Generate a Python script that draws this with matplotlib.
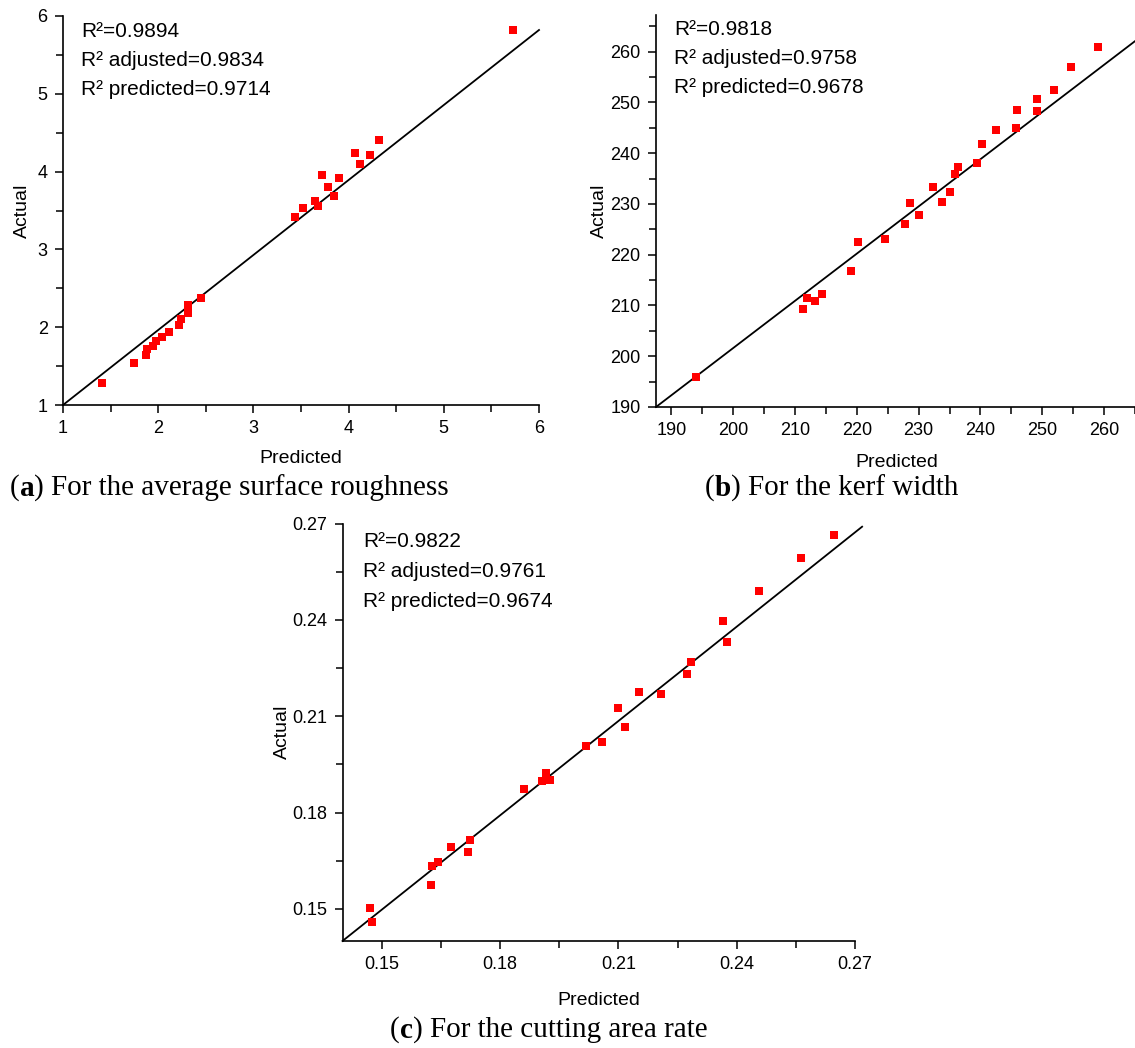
import matplotlib
matplotlib.use('Agg')
import matplotlib.pyplot as plt
from matplotlib.ticker import MultipleLocator, FormatStrFormatter

# (a) average surface roughness
a_pred = [5.73, 4.32, 4.07, 4.22, 4.12, 3.72, 3.90, 3.78, 3.85, 3.65, 3.68, 3.52, 3.44,
          2.45, 2.31, 2.31, 2.24, 2.22, 2.11, 2.04, 1.98, 1.95, 1.88, 1.87, 1.75, 1.41]
a_act = [5.82, 4.40, 4.24, 4.21, 4.10, 3.95, 3.92, 3.80, 3.68, 3.62, 3.56, 3.53, 3.42,
         2.37, 2.28, 2.18, 2.10, 2.03, 1.94, 1.88, 1.82, 1.76, 1.72, 1.64, 1.54, 1.28]
a_fit = ([1, 6], [1, 5.82])
a_stats = ['0.9894', '0.9834', '0.9714']

# (b) kerf width
b_pred = [259.0, 254.7, 251.9, 249.1, 246.0, 249.1, 245.7, 242.5, 240.2, 239.5, 236.3, 235.9,
          232.4, 235.0, 233.8, 228.6, 230.1, 227.8, 224.5, 220.2, 219.1, 214.4, 211.9, 213.2,
          211.3, 194.0]
b_act = [260.8, 256.9, 252.5, 250.7, 248.5, 248.3, 244.9, 244.5, 241.8, 238.0, 237.2, 235.9,
         233.4, 232.4, 230.4, 230.2, 227.9, 226.0, 223.1, 222.4, 216.8, 212.2, 211.5, 210.9,
         209.3, 195.9]
b_fit = ([187.5, 265.5], [190, 262.5])
b_stats = ['0.9818', '0.9758', '0.9678']

# (c) cutting area rate
c_pred = [0.2647, 0.2563, 0.2457, 0.2366, 0.2375, 0.2285, 0.2273, 0.2152, 0.2207, 0.2100,
          0.2117, 0.2058, 0.2018, 0.1916, 0.1906, 0.1927, 0.1861, 0.1724, 0.1719, 0.1675,
          0.1642, 0.1626, 0.1624, 0.1470, 0.1476]
c_act = [0.2664, 0.2594, 0.2489, 0.2396, 0.2331, 0.2268, 0.2231, 0.2175, 0.2170, 0.2127,
         0.2067, 0.2020, 0.2006, 0.1924, 0.1897, 0.1902, 0.1873, 0.1716, 0.1677, 0.1693,
         0.1645, 0.1633, 0.1575, 0.1503, 0.1460]
c_fit = ([0.14, 0.2718], [0.14, 0.269])
c_stats = ['0.9822', '0.9761', '0.9674']

W, H = 1135, 1048
fig = plt.figure(figsize=(W / 100, H / 100), dpi=100)

tick_font = ['Liberation Sans Narrow', 'Liberation Sans', 'DejaVu Sans']
text_font = ['Liberation Sans', 'DejaVu Sans']
cap_font = ['Liberation Serif', 'DejaVu Serif']


def px_axes(x0, x1, ytop, ybot):
    # pixel box -> figure fraction
    return fig.add_axes([x0 / W, 1 - ybot / H, (x1 - x0) / W, (ybot - ytop) / H])


def setup(ax, xlim, ylim, major, minor, fmt=None):
    ax.set_xlim(*xlim)
    ax.set_ylim(*ylim)
    for s in ['top', 'right']:
        ax.spines[s].set_visible(False)
    for s in ['left', 'bottom']:
        ax.spines[s].set_linewidth(1.2)
    ax.xaxis.set_major_locator(MultipleLocator(major))
    ax.xaxis.set_minor_locator(MultipleLocator(minor))
    ax.yaxis.set_major_locator(MultipleLocator(major))
    ax.yaxis.set_minor_locator(MultipleLocator(minor))
    if fmt:
        ax.xaxis.set_major_formatter(FormatStrFormatter(fmt))
        ax.yaxis.set_major_formatter(FormatStrFormatter(fmt))
    ax.tick_params(which='major', direction='out', length=6, width=1.1, pad=5)
    ax.tick_params(which='minor', direction='out', length=5, width=1.1)
    for lab in ax.get_xticklabels() + ax.get_yticklabels():
        lab.set_family(tick_font)
        lab.set_fontsize(13)
    ax.set_xlabel('Predicted', family=tick_font, fontsize=14)
    ax.set_ylabel('Actual', family=tick_font, fontsize=14)


def draw(ax, pred, act, fit, stats, x0=0.035, y0=0.965, dy=0.076):
    ax.plot(fit[0], fit[1], color='black', lw=1.3, clip_on=False, zorder=2)
    ax.scatter(pred, act, marker='s', s=30, color='#ff0000', lw=0, zorder=3, clip_on=False)
    labels = ['R\u00b2=', 'R\u00b2 adjusted=', 'R\u00b2 predicted=']
    for i, (lab, v) in enumerate(zip(labels, stats)):
        ax.text(x0, y0 - i * dy, lab + v, transform=ax.transAxes,
                family=text_font, fontsize=15, va='center', ha='left')


# panel a
ax1 = px_axes(63, 539, 16, 405)
setup(ax1, (1, 6), (1, 6), 1, 0.5)
draw(ax1, a_pred, a_act, a_fit, a_stats, 0.038, 0.96, 0.074)
ax1.xaxis.set_label_coords(0.5, -0.115)
ax1.yaxis.set_label_coords(-0.068, 0.5)

# panel b
ax2 = px_axes(656, 1138, 15, 407)
setup(ax2, (187.5, 265.5), (190, 267.2), 10, 5)
draw(ax2, b_pred, b_act, b_fit, b_stats, 0.038, 0.963, 0.074)
ax2.xaxis.set_label_coords(0.5, -0.12)
ax2.yaxis.set_label_coords(-0.1, 0.5)

# panel c
ax3 = px_axes(342.5, 855, 523.5, 941)
setup(ax3, (0.14, 0.27), (0.14, 0.27), 0.03, 0.015, '%.2f')
draw(ax3, c_pred, c_act, c_fit, c_stats, 0.04, 0.958, 0.072)
ax3.xaxis.set_label_coords(0.5, -0.122)
ax3.yaxis.set_label_coords(-0.1, 0.5)

# captions
caps = [(10, 488, 'a', 'For the average surface roughness'),
        (705, 488, 'b', 'For the kerf width'),
        (390, 1030, 'c', 'For the cutting area rate')]
renderer = fig.canvas.get_renderer()
for x, y, letter, txt in caps:
    t = fig.text(x / W, 1 - y / H, '(', family=cap_font, fontsize=21, va='center', ha='left')
    bb = t.get_window_extent(renderer=renderer)
    t2 = fig.text(bb.x1 / W, 1 - y / H, letter, family=cap_font, fontsize=21,
                  fontweight='bold', va='center', ha='left')
    bb = t2.get_window_extent(renderer=renderer)
    fig.text(bb.x1 / W, 1 - y / H, ') ' + txt, family=cap_font, fontsize=21,
             va='center', ha='left')

fig.savefig('out.png', dpi=100)
